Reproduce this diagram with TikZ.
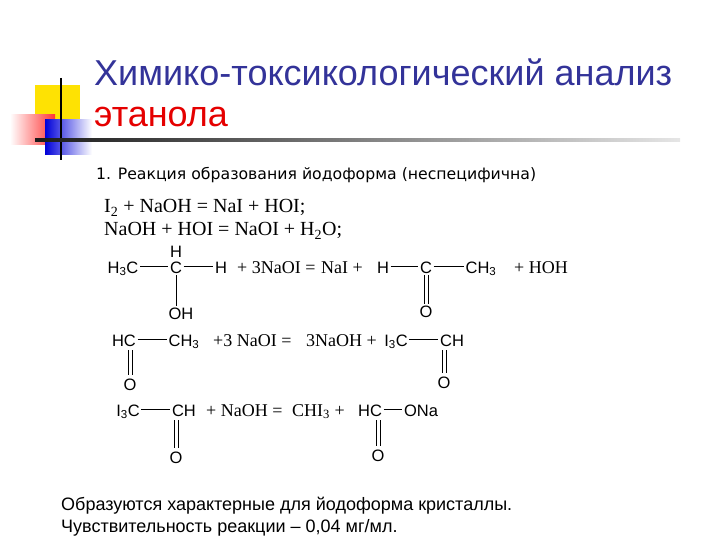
\documentclass[tikz,border=0pt]{standalone}
\usepackage{fontspec}
\setmainfont{Liberation Sans}
\newfontfamily\tms{Liberation Serif}
\newfontfamily\tah{DejaVu Sans}
\begin{document}
\begin{tikzpicture}[x=1pt,y=-1pt,
  t/.style={anchor=base west,inner sep=0pt,font=\fontsize{18}{18}\selectfont},
  eq/.style={anchor=base west,inner sep=0pt,font=\tms\fontsize{20}{20}\selectfont},
  eqs/.style={anchor=base west,inner sep=0pt,font=\tms\fontsize{18}{18}\selectfont},
  atm/.style={anchor=base,inner sep=1.5pt,font=\fontsize{16.5}{16.5}\selectfont},
  bond/.style={line width=0.9pt},
  ttl/.style={anchor=base west,inner sep=0pt,font=\fontsize{36}{36}\selectfont}]
\useasboundingbox (0,0) rectangle (720,540);
% decoration
\fill[yellow!85!orange] (35,85) rectangle (80,130);
\shade[left color=white,right color=red!80] (10,115) rectangle (55,145);
\shade[left color=blue!85!black,right color=white] (45,120) rectangle (92,155);
\draw[line width=2pt] (61,78) -- (61,160);
\shade[left color=black!90,right color=black!10] (35,139) rectangle (680,142);
% title
\node[ttl,text={rgb,255:red,51;green,51;blue,153}] (t1) at (94,86) {Химико-токсикологический анализ};
\node[ttl,text=red!90!black] (t2) at (94,127) {этанола};
\node[t,font=\tah\fontsize{15.7}{15.7}\selectfont] (s1) at (96,180) {1. Реакция образования йодоформа (неспецифична)};
% equations
\node[eq] (e1) at (104,213) {I\textsubscript{2} + NaOH = NaI + HOI;};
\node[eq] (e2) at (104,236) {NaOH + HOI = NaOI + H\textsubscript{2}O;};
% row 3
\node[atm] (a1) at (123,273) {H\textsubscript{3}C};
\node[atm] (a2) at (176,273) {C};
\node[atm] (a3) at (221,273) {H};
\node[atm] (a4) at (176,257) {H};
\node[atm] (a5) at (181,319) {OH};
\node[eqs] (e3) at (237,273) {+ 3NaOI =};
\node[eqs] (e3b) at (321,273) {NaI +};
\node[atm] (a6) at (383,273) {H};
\node[atm] (a7) at (426,273) {C};
\node[atm] (a8) at (481,273) {CH\textsubscript{3}};
\node[eqs] (e4) at (514,273) {+ HOH};
\node[atm] (a9) at (426,317) {O};
\draw[bond] (a1.east|-176,266) -- (a2.west|-176,266);
\draw[bond] (a2.east|-176,266) -- (a3.west|-176,266);
\draw[bond] (a2.south) -- (a5.north-|a2);
\draw[bond] (a6.east|-176,266) -- (a7.west|-176,266);
\draw[bond] (a7.east|-176,266) -- (a8.west|-176,266);
\draw[bond] ([xshift=-2pt]a7.south) -- ([xshift=-2pt]a9.north);
\draw[bond] ([xshift=2pt]a7.south) -- ([xshift=2pt]a9.north);
% row 4
\node[atm] (b1) at (124,346) {HC};
\node[atm] (b2) at (184,346) {CH\textsubscript{3}};
\node[eqs] (e5) at (213,346) {+3 NaOI =};
\node[eqs] (e5b) at (306,346) {3NaOH +};
\node[atm] (b3) at (396,346) {I\textsubscript{3}C};
\node[atm] (b4) at (452,346) {CH};
\node[atm] (b5) at (130,390) {O};
\node[atm] (b6) at (444,388) {O};
\draw[bond] (b1.east|-0,339) -- (b2.west|-0,339);
\draw[bond] (b3.east|-0,339) -- (b4.west|-0,339);
\draw[bond] (128,350) -- (128,375); \draw[bond] (132,350) -- (132,375);
\draw[bond] (442,350) -- (442,373); \draw[bond] (446,350) -- (446,373);
% row 5
\node[atm] (c1) at (128,416) {I\textsubscript{3}C};
\node[atm] (c2) at (184,416) {CH};
\node[eqs] (e6) at (206,416) {+ NaOH =};
\node[eqs] (e6b) at (292,416) {CHI\textsubscript{3} +};
\node[atm] (c3) at (370,416) {HC};
\node[atm] (c4) at (421,416) {ONa};
\node[atm] (c5) at (176,463) {O};
\node[atm] (c6) at (378,461) {O};
\draw[bond] (c1.east|-0,409) -- (c2.west|-0,409);
\draw[bond] (c3.east|-0,409) -- (c4.west|-0,409);
\draw[bond] (174,420) -- (174,448); \draw[bond] (178,420) -- (178,448);
\draw[bond] (376,420) -- (376,446); \draw[bond] (380,420) -- (380,446);
% bottom
\node[t] (f1) at (61,510) {Образуются характерные для йодоформа кристаллы.};
\node[t] (f2) at (61,532) {Чувствительность реакции – 0,04 мг/мл.};
\end{tikzpicture}
\end{document}
